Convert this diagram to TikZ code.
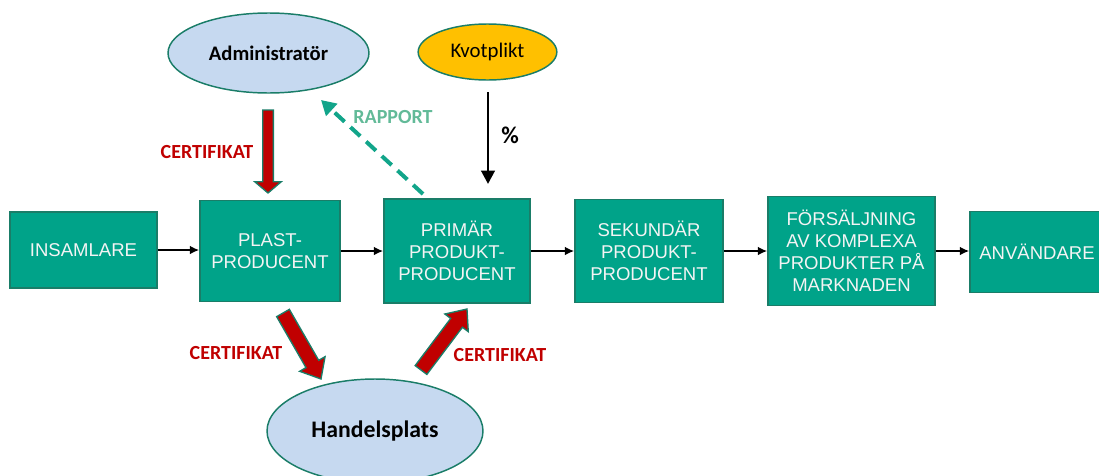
\documentclass[tikz,border=0pt]{standalone}
\usepackage{fontspec}
\setmainfont{Liberation Sans}
\newfontfamily\calfont{Carlito}
\usetikzlibrary{shapes.geometric,arrows.meta,calc}
\definecolor{boxfill}{HTML}{00A389}
\definecolor{boxline}{HTML}{1A7D68}
\definecolor{ellfill}{HTML}{C6D9F0}
\definecolor{kvot}{HTML}{FFC000}
\definecolor{certred}{HTML}{C00000}
\definecolor{rapline}{HTML}{12A58A}
\definecolor{raptext}{HTML}{62BA98}
\definecolor{boxtext}{HTML}{F4F4F4}
\newcommand\fatarr[5]{% start, end, shaft half-width, head half-width, head length
  \coordinate (fhA) at ($(#2)!#5!(#1)$);
  \draw[fatarrow] ($(#1)!#3!90:(#2)$) -- ($(fhA)!#3!90:(#2)$) -- ($(fhA)!#4!90:(#2)$) -- (#2)
    -- ($(fhA)!#4!-90:(#2)$) -- ($(fhA)!#3!-90:(#2)$) -- ($(#1)!#3!-90:(#2)$) -- cycle;}
\begin{document}
\begin{tikzpicture}[x=0.75pt,y=-0.75pt,
  flowbox/.style={draw=boxline,line width=1.1pt,fill=boxfill,text=boxtext,align=center,
    font=\fontsize{13.9}{16.5}\selectfont,inner sep=0pt},
  oval/.style={ellipse,draw=boxline,line width=1.1pt,inner sep=0pt},
  flow/.style={-{Latex[length=7pt,width=6.5pt]},line width=1.8pt},
  certlabel/.style={text=certred,font=\calfont\bfseries\fontsize{15}{18}\selectfont},
  fatarrow/.style={fill=certred,draw=boxline,line width=1pt,line join=miter}
]
\useasboundingbox (0,0) rectangle (1099,475);
\begin{scope}
\clip (0,0) rectangle (1099,475);
% boxes
\node[flowbox,minimum width=110.25pt,minimum height=57pt] (ins) at (83.5,250) {INSAMLARE};
\node[flowbox,minimum width=105pt,minimum height=75.75pt] (plast) at (270,251) {PLAST-\\PRODUCENT};
\node[flowbox,minimum width=109.5pt,minimum height=78pt] (prim) at (457,251) {PRIMÄR\\PRODUKT-\\PRODUCENT};
\node[flowbox,minimum width=111pt,minimum height=77.25pt] (sek) at (649,251) {SEKUNDÄR\\PRODUKT-\\PRODUCENT};
\node[flowbox,minimum width=125.25pt,minimum height=81.75pt] (fors) at (851.5,251) {FÖRSÄLJNING\\AV KOMPLEXA\\PRODUKTER PÅ\\MARKNADEN};
\node[flowbox,minimum width=100.5pt,minimum height=60.75pt] (anv) at (1037,252) {ANVÄNDARE};
% ellipses
\node[oval,fill=ellfill,minimum width=150.75pt,minimum height=60pt,font=\calfont\bfseries\fontsize{15.5}{18}\selectfont] (admin) at (268.5,53) {Administratör};
\node[oval,fill=kvot,minimum width=104pt,minimum height=42pt,font=\calfont\fontsize{15.6}{18}\selectfont] (kvot) at (487.5,52) {Kvotplikt};
\node[oval,fill=ellfill,minimum width=162pt,minimum height=78pt,font=\calfont\bfseries\fontsize{17.8}{20}\selectfont] (handel) at (375,431) {Handelsplats};
% flow arrows
\draw[flow] (ins.east) -- (plast.west|-ins.east);
\draw[flow] (plast.east) -- (prim.west|-plast.east);
\draw[flow] (prim.east) -- (sek.west|-prim.east);
\draw[flow] (sek.east) -- (fors.west|-sek.east);
\draw[flow] (fors.east) -- (anv.west|-fors.east);
% certificate arrows
\coordinate (a1s) at (268,110); \coordinate (a1e) at (268,193);
\fatarr{a1s}{a1e}{4pt}{10pt}{8.5pt}
\coordinate (a2s) at (283,313); \coordinate (a2e) at (321,379);
\fatarr{a2s}{a2e}{5.5pt}{11pt}{13pt}
\coordinate (a3s) at (421,370); \coordinate (a3e) at (467,309);
\fatarr{a3s}{a3e}{5.5pt}{11pt}{13pt}
% rapport
\coordinate (rs) at (423,194); \coordinate (re) at (321,100);
\draw[rapline,line width=3pt,dash pattern=on 10pt off 6pt,-{Triangle[length=11pt,width=12pt]}] (rs) -- (re);
% kvotplikt arrow
\coordinate (ks) at (488,92); \coordinate (ke) at (488,184);
\draw[line width=2.2pt,-{Triangle[length=10pt,width=10pt]}] (ks) -- (ke);
% labels
\node[certlabel] (l1) at (207,152) {CERTIFIKAT};
\node[certlabel] (l2) at (236,353) {CERTIFIKAT};
\node[certlabel] (l3) at (500,355) {CERTIFIKAT};
\node[text=raptext,font=\calfont\bfseries\fontsize{15}{18}\selectfont] (lr) at (393,117) {RAPPORT};
\node[font=\calfont\bfseries\fontsize{18}{20}\selectfont] (lp) at (510,135) {\%};
\end{scope}
\end{tikzpicture}
\end{document}
